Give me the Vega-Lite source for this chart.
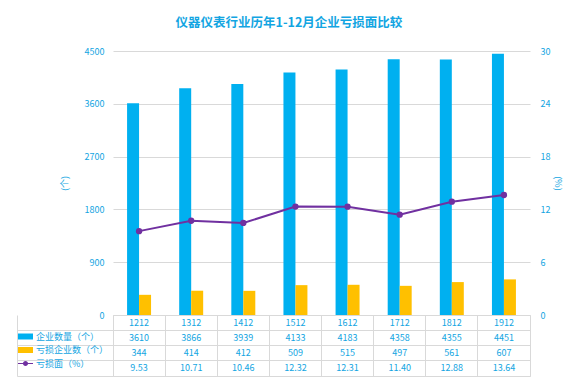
{
  "$schema": "https://vega.github.io/schema/vega-lite/v6.json",
  "padding": {"left": 16, "top": 16, "right": 10, "bottom": 5},
  "background": "#ffffff",
  "title": {"text": "仪器仪表行业历年1-12月企业亏损面比较", "fontSize": 12.5, "fontWeight": "bold", "color": "#12A5E2", "font": "Noto Sans CJK SC", "anchor": "middle", "offset": 18},
  "data": {"values": [
    {"year": "1212", "count": 3610, "loss": 344, "rate": 9.53},
    {"year": "1312", "count": 3866, "loss": 414, "rate": 10.71},
    {"year": "1412", "count": 3939, "loss": 412, "rate": 10.46},
    {"year": "1512", "count": 4133, "loss": 509, "rate": 12.32},
    {"year": "1612", "count": 4183, "loss": 515, "rate": 12.31},
    {"year": "1712", "count": 4358, "loss": 497, "rate": 11.40},
    {"year": "1812", "count": 4355, "loss": 561, "rate": 12.88},
    {"year": "1912", "count": 4451, "loss": 607, "rate": 13.64}
  ]},
  "spacing": 0,
  "bounds": "flush",
  "vconcat": [
    {
      "width": 417,
      "height": 264,
      "view": {"stroke": null},
      "encoding": {
        "x": {"field": "year", "type": "nominal", "sort": null, "scale": {"type": "band", "paddingInner": 0.54, "paddingOuter": 0.27}, "axis": null}
      },
      "layer": [
        {
          "transform": [{"fold": ["count", "loss"], "as": ["series", "value"]}],
          "mark": {"type": "bar"},
          "encoding": {
            "xOffset": {"field": "series", "type": "nominal", "scale": {"domain": ["count", "loss"]}},
            "y": {"field": "value", "type": "quantitative", "scale": {"domain": [0, 4500]},
              "axis": {"orient": "left", "values": [0, 900, 1800, 2700, 3600, 4500], "format": "d", "grid": true, "title": "(个)", "titlePadding": 15, "labelPadding": 9, "tickSize": 0}},
            "color": {"field": "series", "type": "nominal",
              "scale": {"domain": ["count", "loss", "rate"], "range": ["#00B0F0", "#FFC000", "#7030A0"]},
              "legend": {
                "orient": "none", "legendX": -95, "legendY": 278, "title": null, "direction": "vertical",
                "labelColor": "#12A5E2", "labelFontSize": 9, "labelFont": "Noto Sans CJK SC",
                "symbolSize": 225, "rowPadding": 0.5, "labelOffset": 3, "padding": 0,
                "labelExpr": "datum.value === 'count' ? '企业数量（个）' : datum.value === 'loss' ? '亏损企业数（个）' : '亏损面（%）'",
                "encode": {"symbols": {"update": {
                  "shape": {"signal": "datum.value === 'rate' ? 'M-1,-0.08H1V0.08H-1Z M0.34,0A0.34,0.34 0 1,1 -0.34,0A0.34,0.34 0 1,1 0.34,0Z' : 'M-1,-0.4H1V0.4H-1Z'"},
                  "fill": {"signal": "datum.value === 'count' ? '#00B0F0' : datum.value === 'loss' ? '#FFC000' : '#7030A0'"},
                  "strokeWidth": {"value": 0},
                  "opacity": {"value": 1}
                }}}
              }}
          }
        },
        {
          "mark": {"type": "line", "strokeWidth": 2, "point": {"filled": true, "size": 40}},
          "encoding": {
            "y": {"field": "rate", "type": "quantitative", "scale": {"domain": [0, 30]},
              "axis": {"orient": "right", "values": [0, 6, 12, 18, 24, 30], "format": "d", "grid": false, "title": "(%)", "titlePadding": 3, "labelPadding": 10, "tickSize": 0}},
            "color": {"datum": "rate"}
          }
        }
      ],
      "resolve": {"scale": {"y": "independent"}}
    },
    {
      "width": 417,
      "height": 61,
      "view": {"stroke": "#D9D9D9"},
      "encoding": {
        "x": {"field": "year", "type": "nominal", "sort": null, "scale": {"type": "band", "paddingInner": 0, "paddingOuter": 0},
          "axis": {"orient": "top", "grid": true, "bandPosition": 0, "labels": false, "ticks": false, "domain": false, "title": null}}
      },
      "layer": [
        {
          "mark": {"type": "text", "fontSize": 9, "color": "#12A5E2", "baseline": "middle"},
          "encoding": {
            "y": {"datum": "h", "type": "nominal", "scale": {"type": "band", "domain": ["h", "c", "l", "r"], "paddingInner": 0, "paddingOuter": 0},
              "axis": {"orient": "left", "offset": 96, "bandPosition": 1, "ticks": true, "tickSize": -96, "tickColor": "#D9D9D9", "domain": true, "domainColor": "#D9D9D9", "grid": true, "labels": false, "title": null}},
            "text": {"field": "year"}
          }
        },
        {
          "mark": {"type": "text", "fontSize": 9, "color": "#12A5E2", "baseline": "middle"},
          "encoding": {"y": {"datum": "c", "type": "nominal"}, "text": {"field": "count", "type": "quantitative", "format": "d"}}
        },
        {
          "mark": {"type": "text", "fontSize": 9, "color": "#12A5E2", "baseline": "middle"},
          "encoding": {"y": {"datum": "l", "type": "nominal"}, "text": {"field": "loss", "type": "quantitative", "format": "d"}}
        },
        {
          "mark": {"type": "text", "fontSize": 9, "color": "#12A5E2", "baseline": "middle"},
          "encoding": {"y": {"datum": "r", "type": "nominal"}, "text": {"field": "rate", "type": "quantitative", "format": ".2f"}}
        }
      ]
    }
  ],
  "config": {
    "font": "Noto Sans CJK SC",
    "axis": {"labelColor": "#12A5E2", "labelFont": "Noto Sans CJK SC", "labelFontSize": 9, "titleColor": "#12A5E2", "titleFont": "Noto Sans CJK SC", "titleFontSize": 9, "titleFontWeight": "normal", "gridColor": "#D9D9D9", "domain": false, "ticks": false},
    "text": {"font": "Noto Sans CJK SC"}
  }
}
